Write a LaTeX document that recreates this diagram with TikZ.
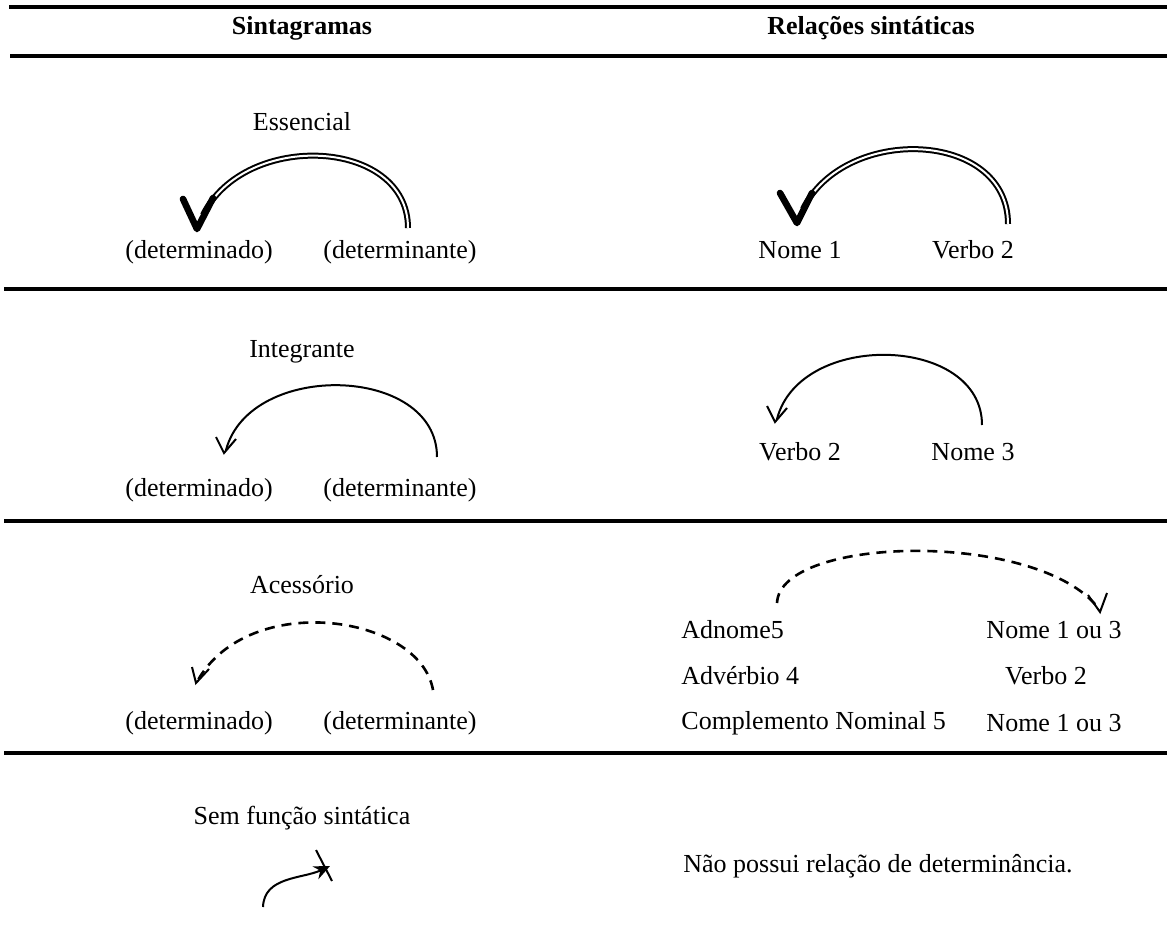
\documentclass[tikz,border=0pt]{standalone}
\usepackage{fontspec}
\setmainfont{Liberation Serif}
\usepackage{tikz}
\usetikzlibrary{arrows.meta,calc}
\begin{document}
\begin{tikzpicture}[x=0.5pt,y=-0.5pt]
\tikzstyle{every node}+=[inner sep=0pt, font=\fontsize{13}{15}\selectfont]
\tikzstyle{rule}=[line width=1.7pt]
\tikzstyle{dbl}=[double, double distance=1pt, line width=1pt]
\tikzstyle{thin}=[line width=1pt]
\tikzstyle{dsh}=[line width=1.3pt, dash pattern=on 5pt off 3.5pt]
\tikzstyle{bigv}=[line width=3.3pt, line join=round, line cap=round]
\tikzstyle{smallv}=[line width=1pt, line join=miter]
\useasboundingbox (0,0) rectangle (1167,937);
% linhas da tabela
\draw [rule] (9,7) -- (1167,7);
\draw [rule] (10,56) -- (1167,56);
\draw [rule] (4,289) -- (1167,289);
\draw [rule] (4,521) -- (1167,521);
\draw [rule] (4,753) -- (1167,753);
\node [font=\fontsize{13}{15}\selectfont\bfseries] (h1) at (302,28) {Sintagramas};
\node [font=\fontsize{13}{15}\selectfont\bfseries] (h2) at (871,28) {Relações sintáticas};
% essencial
\node (ess) at (302,122) {Essencial};
\node (dto1) at (199,252) {(determinado)};
\node (dte1) at (400,252) {(determinante)};
\node (nome1) at (800,250) {Nome 1};
\node (verbo1) at (973,250) {Verbo 2};
\coordinate (e1a) at (408,228);
\coordinate (e1b) at (197,229);
\coordinate (e2a) at (1008,224);
\coordinate (e2b) at (797,223);
\draw [dbl] (e1a) .. controls (408,138) and (245,130) .. ($(e1b)+(6,-14)$);
\draw [bigv] ($(e1b)+(-14,-30)$) -- (e1b) -- ($(e1b)+(16,-31)$);
\draw [dbl] (e2a) .. controls (1008,130) and (845,124) .. ($(e2b)+(6,-14)$);
\draw [bigv] ($(e2b)+(-17,-30)$) -- (e2b) -- ($(e2b)+(15,-30)$);
% integrante
\node (int) at (302,352) {Integrante};
\node (dto2) at (199,490) {(determinado)};
\node (dte2) at (400,490) {(determinante)};
\node (verbo2) at (800,452) {Verbo 2};
\node (nome3) at (973,452) {Nome 3};
\coordinate (i1a) at (437,457);
\coordinate (i1b) at (224,453);
\coordinate (i2a) at (982,425);
\coordinate (i2b) at (775,422);
\draw [thin] (i1a) .. controls (437,365) and (250,360) .. ($(i1b)+(2,-3)$);
\draw [smallv] ($(i1b)+(-8,-16)$) -- (i1b) -- ($(i1b)+(12,-14)$);
\draw [thin] (i2a) .. controls (982,335) and (800,330) .. ($(i2b)+(2,-3)$);
\draw [smallv] ($(i2b)+(-8,-16)$) -- (i2b) -- ($(i2b)+(12,-14)$);
% acessorio
\node (ace) at (302,585) {Acessório};
\node (dto3) at (199,723) {(determinado)};
\node (dte3) at (400,723) {(determinante)};
\node [anchor=west] (adn) at (681,630) {Adnome5};
\node [anchor=west] (adv) at (681,676) {Advérbio 4};
\node [anchor=west] (cpn) at (681,723) {Complemento Nominal 5};
\node (n13a) at (1054,630) {Nome 1 ou 3};
\node (vb2) at (1046,676) {Verbo 2};
\node (n13b) at (1054,723) {Nome 1 ou 3};
\coordinate (a1a) at (433,690);
\coordinate (a1b) at (196,683);
\coordinate (a2a) at (777,603);
\coordinate (a2b) at (1100,612);
\draw [dsh] (a1a) .. controls (420,615) and (250,590) .. ($(a1b)+(2,-3)$);
\draw [smallv] ($(a1b)+(-4,-16)$) -- (a1b) -- ($(a1b)+(13,-14)$);
\draw [dsh] (a2a) .. controls (780,535) and (1040,530) .. ($(a2b)+(-1,-3)$);
\draw [smallv] ($(a2b)+(-12,-17)$) -- (a2b) -- ($(a2b)+(7,-19)$);
% sem funcao
\node (sem) at (302,818) {Sem função sintática};
\node [anchor=west] (nao) at (683,866) {Não possui relação de determinância.};
\coordinate (s1) at (263,907);
\coordinate (s2) at (330,866);
\draw [thin, -{Stealth[length=8pt,width=7pt]}] (s1) to[out=88, in=205] (s2);
\draw [thin] (316,850) -- (332,881);
\end{tikzpicture}
\end{document}
